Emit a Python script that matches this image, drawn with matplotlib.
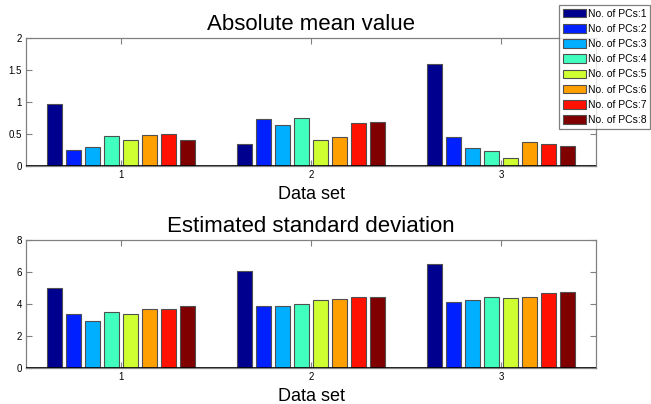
import matplotlib
matplotlib.use("Agg")
import matplotlib.pyplot as plt
import numpy as np

plt.rcParams["font.family"] = ["Liberation Sans", "DejaVu Sans"]

data_sets = [1, 2, 3]
pc_labels = [f"No. of PCs:{k}" for k in range(1, 9)]

# rows = data set, columns = number of PCs
abs_mean = [
    [0.97, 0.25, 0.29, 0.47, 0.41, 0.48, 0.50, 0.40],
    [0.35, 0.73, 0.64, 0.75, 0.41, 0.45, 0.67, 0.69],
    [1.60, 0.45, 0.28, 0.23, 0.12, 0.38, 0.35, 0.32],
]
est_std = [
    [4.98, 3.35, 2.93, 3.52, 3.35, 3.69, 3.66, 3.90],
    [6.09, 3.90, 3.90, 4.02, 4.23, 4.29, 4.42, 4.46],
    [6.53, 4.10, 4.25, 4.42, 4.38, 4.46, 4.67, 4.73],
]

colors = ["#00008f", "#0020ff", "#00afff", "#40ffbf",
          "#cfff30", "#ff9f00", "#ff1000", "#800000"]


def grouped_bars(ax, values, ymax, yticks, ytick_labels, title):
    values = np.array(values)
    x = np.array(data_sets, dtype=float)
    n = values.shape[1]
    pitch = 0.1
    handles = []
    for i in range(n):
        offs = (i - (n - 1) / 2) * pitch
        h = ax.bar(x + offs, values[:, i], 0.084, color=colors[i],
                   edgecolor="#505050", linewidth=0.8, zorder=2)
        handles.append(h)
    ax.axhline(0, color="black", linewidth=1.2, zorder=3)
    ax.set_xlim(0.5, 3.5)
    ax.set_ylim(0, ymax)
    ax.set_xticks(data_sets)
    ax.set_xticklabels([str(d) for d in data_sets])
    ax.set_yticks(yticks)
    ax.set_yticklabels(ytick_labels)
    ax.tick_params(direction="in", length=4, width=0.8, color="#808080",
                   labelsize=7, top=True, right=True, pad=3)
    for side in ["top", "left", "right", "bottom"]:
        ax.spines[side].set_color("#808080")
        ax.spines[side].set_linewidth(0.9)
    ax.set_xlabel("Data set", fontsize=13, labelpad=4)
    ax.set_title(title, fontsize=16, pad=6)
    return handles


fig = plt.figure(figsize=(6.51, 4.04), dpi=100)
W, H = 651, 404
ax1 = fig.add_axes([26 / W, 1 - 166 / H, 570 / W, 128 / H])
ax2 = fig.add_axes([26 / W, 1 - 368 / H, 570 / W, 128 / H])

handles = grouped_bars(ax1, abs_mean, 2, [0, 0.5, 1, 1.5, 2],
                       ["0", "0.5", "1", "1.5", "2"], "Absolute mean value")
grouped_bars(ax2, est_std, 8, [0, 2, 4, 6, 8],
             ["0", "2", "4", "6", "8"], "Estimated standard deviation")

leg = fig.legend(handles, pc_labels, loc="upper left",
                 bbox_to_anchor=(559 / W, 1 - 5 / H), fontsize=7.5,
                 frameon=True, fancybox=False, borderaxespad=0,
                 handlelength=2.2, handleheight=0.9, labelspacing=0.5,
                 handletextpad=0.25, borderpad=0.35)
leg.get_frame().set_edgecolor("#606060")
leg.get_frame().set_linewidth(0.9)

fig.savefig("out.png", dpi=100)
